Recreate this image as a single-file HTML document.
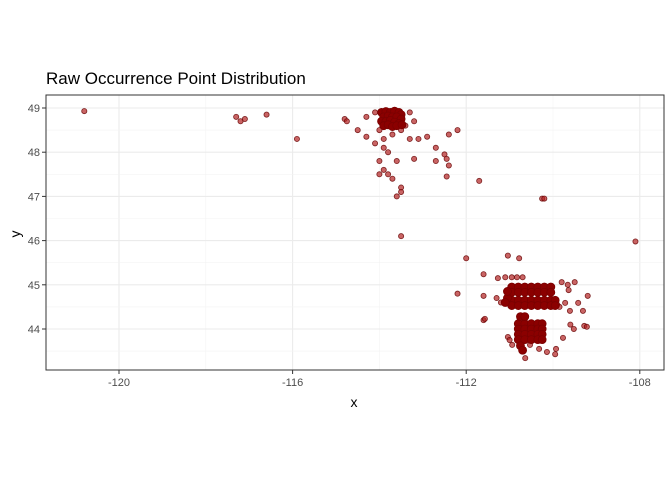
<!DOCTYPE html>
<html><head><meta charset="utf-8"><style>
body{margin:0;background:#fff;font-family:"Liberation Sans",sans-serif}
</style></head><body>
<svg id="c" width="672" height="480" xmlns="http://www.w3.org/2000/svg">
<rect width="672" height="480" fill="#fff"/>
<text x="46" y="84" font-size="17" fill="#000">Raw Occurrence Point Distribution</text>
<g id="grid"></g><g id="pts"></g><g id="axes"></g>
<text x="354" y="407" font-size="14" text-anchor="middle">x</text>
<text x="20" y="234" font-size="14" text-anchor="middle" transform="rotate(-90 20 234)">y</text>
</svg>
<script>
const xTicks=[-120,-116,-112,-108];
const yTicks=[44,45,46,47,48,49];
const lons=[-120.8,-117.3,-117.2,-117.1,-116.6,-115.9,-112.7,-112.9,-112.2,-112.4,-112.5,-112.45,-112.7,-112.4,-112.45,-111.7,-110.25,-110.2,-113.5,-108.1,-112.0,-112.2,-111.6,
-114.1,-114.3,-113.3,-113.4,-113.2,-114.0,-113.7,-113.9,-113.5,-113.3,-113.8,-114.0,-113.6,-113.9,-113.8,-114.0,-113.7,-113.5,-113.5,-113.6,-113.2,-113.9,-114.5,-114.8,-114.75,-114.3,-114.1,-113.1,
-111.04,-110.78,-111.6,-111.27,-111.1,-110.95,-110.83,-110.7,-109.8,-109.5,-109.66,-109.64,-109.2,-109.42,-109.72,-109.61,-109.31,-111.6,-111.57,
-109.6,-109.28,-109.22,-109.52,-109.77,-109.93,-110.14,-111.04,-110.94,-111.0,-110.53,-110.64,-109.95,-110.32,-109.9,-109.85,-111.2,-111.3];
const lats=[48.93,48.8,48.7,48.75,48.85,48.3,48.1,48.35,48.5,48.4,47.95,47.85,47.8,47.7,47.45,47.35,46.95,46.95,46.1,45.98,45.6,44.8,44.2,
48.9,48.8,48.9,48.6,48.7,48.5,48.4,48.3,48.5,48.3,48.0,47.8,47.8,47.6,47.5,47.5,47.4,47.2,47.1,47.0,47.85,48.1,48.5,48.75,48.7,48.35,48.2,48.3,
45.66,45.6,45.24,45.15,45.17,45.17,45.17,45.17,45.06,45.06,45.0,44.88,44.75,44.59,44.59,44.41,44.41,44.75,44.23,
44.1,44.07,44.05,44.0,43.8,43.55,43.48,43.82,43.64,43.75,43.64,43.34,43.43,43.55,44.55,44.5,44.6,44.7];
const denseLons=[-113.95,-113.85,-113.75,-113.65,-113.55,-113.5,-113.9,-113.8,-113.7,-113.6,-113.5,-113.95,-113.85,-113.75,-113.65,-113.55,-113.9,-113.8,-113.7,-113.6,-113.48,
-110.95,-110.8,-110.65,-110.5,-110.35,-110.2,-110.05,
-110.95,-110.8,-110.65,-110.5,-110.35,-110.2,-110.05,
-110.95,-110.8,-110.65,-110.5,-110.35,-110.2,-110.05,-109.95,
-110.95,-110.8,-110.65,-110.5,-110.35,-110.2,-110.05,-109.95,
-110.8,-110.65,-110.5,-110.35,-110.25,
-110.8,-110.65,-110.5,-110.35,-110.25,
-110.8,-110.65,-110.5,-110.35,-110.25,
-110.8,-110.65,-110.5,-110.35,-110.25,
-110.75,-110.7,-110.75,-110.65,-111.05,-111.05,-111.1];
const denseLats=[48.9,48.92,48.9,48.93,48.9,48.85,48.8,48.82,48.8,48.8,48.75,48.7,48.7,48.72,48.68,48.65,48.6,48.62,48.58,48.6,48.62,
44.95,44.95,44.95,44.95,44.95,44.95,44.95,
44.83,44.83,44.83,44.83,44.83,44.83,44.83,
44.65,44.65,44.65,44.65,44.65,44.65,44.65,44.65,
44.53,44.53,44.53,44.53,44.53,44.53,44.53,44.53,
44.12,44.12,44.12,44.12,44.12,
44.0,44.0,44.0,44.0,44.0,
43.88,43.88,43.88,43.88,43.88,
43.76,43.76,43.76,43.76,43.76,
43.62,43.52,44.28,44.28,44.7,44.85,44.6];
const NS="http://www.w3.org/2000/svg";
const L=46,R=664,T=95,B=370;
const sx=v=>119+(v+120)*43.4, sy=v=>108+(49-v)*44.2;
const g=document.getElementById('grid'),p=document.getElementById('pts'),a=document.getElementById('axes');
function mk(tag,at,par){const e=document.createElementNS(NS,tag);for(const k in at)e.setAttribute(k,at[k]);par.appendChild(e);return e;}
mk('rect',{x:L,y:T,width:R-L,height:B-T,fill:'#fff'},g);
for(let i=0;i<xTicks.length;i++){const x=sx(xTicks[i]);
 const l=mk('line',{x1:x,x2:x,y1:T,y2:B,stroke:'#ebebeb','stroke-width':1.1},g);
 
 if(i<xTicks.length-1){const m=sx((xTicks[i]+xTicks[i+1])/2);mk('line',{x1:m,x2:m,y1:T,y2:B,stroke:'#f3f3f3','stroke-width':0.6},g);}
 mk('line',{x1:x,x2:x,y1:B,y2:B+4,stroke:'#333'},a);
 const t=mk('text',{x:x,y:B+16,'font-size':11,fill:'#4d4d4d','text-anchor':'middle'},a);t.textContent=xTicks[i];
 }
for(let i=0;i<yTicks.length;i++){const y=sy(yTicks[i]);
 const l=mk('line',{x1:L,x2:R,y1:y,y2:y,stroke:'#ebebeb','stroke-width':1.1},g);
 
 mk('line',{x1:L,x2:R,y1:sy(yTicks[i]-0.5),y2:sy(yTicks[i]-0.5),stroke:'#f3f3f3','stroke-width':0.6},g);
 mk('line',{x1:L-4,x2:L,y1:y,y2:y,stroke:'#333'},a);
 const t=mk('text',{x:L-6,y:y+4,'font-size':11,fill:'#4d4d4d','text-anchor':'end'},a);t.textContent=yTicks[i];
 }
mk('rect',{x:L,y:T,width:R-L,height:B-T,fill:'none',stroke:'#333','stroke-width':1},a);
for(let i=0;i<lons.length;i++){
 const c=mk('circle',{cx:sx(lons[i]),cy:sy(lats[i]),r:2.6,fill:'rgba(178,34,34,0.7)',stroke:'rgba(100,0,0,0.8)','stroke-width':0.8},p);
 
 
}
for(let i=0;i<denseLons.length;i++){
 const c=mk('circle',{cx:sx(denseLons[i]),cy:sy(denseLats[i]),r:4,fill:'#8b0000',stroke:'#7a0000','stroke-width':0.8},p);
 
 
}
</script>
</body></html>
